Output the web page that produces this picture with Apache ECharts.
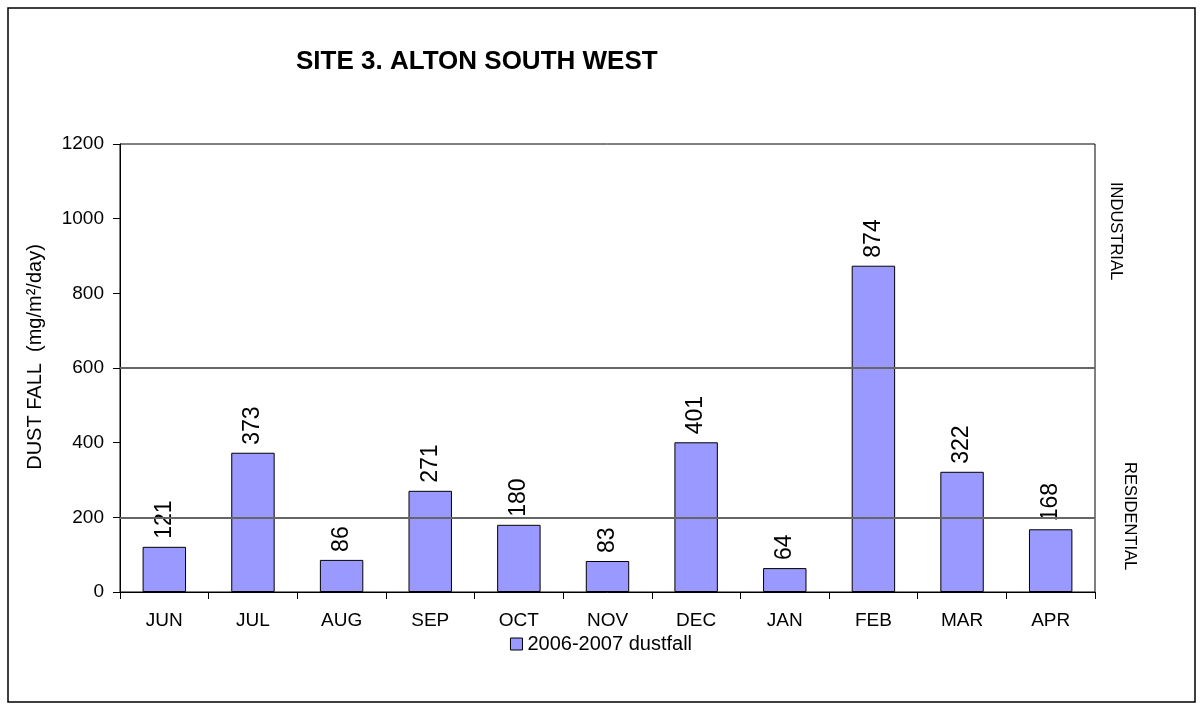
<!DOCTYPE html>
<html>
<head>
<meta charset="utf-8">
<script src="https://cdn.jsdelivr.net/npm/echarts@6/dist/echarts.min.js"></script>
<style>
html,body{margin:0;padding:0;background:#fff;}
#chart{width:1202px;height:704px;}
</style>
</head>
<body>
<div id="chart"></div>
<script>
// ---- data ----
const months = ['JUN','JUL','AUG','SEP','OCT','NOV','DEC','JAN','FEB','MAR','APR'];
const dustfall = [121, 373, 86, 271, 180, 83, 401, 64, 874, 322, 168];
const seriesName = '2006-2007 dustfall';
const limitValues = [200, 600];
const zoneLabels = ['INDUSTRIAL', 'RESIDENTIAL'];
const titleText = 'SITE 3. ALTON SOUTH WEST';
const yAxisTitle = 'DUST FALL  (mg/m²/day)';

const FONT = '"Liberation Sans", Arial, sans-serif';
const chart = echarts.init(document.getElementById('chart'));

chart.setOption({
  animation: false,
  backgroundColor: '#fff',
  title: {
    text: titleText,
    left: 291, top: 44,
    textStyle: {fontFamily: FONT, fontSize: 26, fontWeight: 'bold', color: '#000'}
  },
  legend: {
    data: [seriesName],
    left: 'center', top: 629,
    itemWidth: 12, itemHeight: 12, itemGap: 6,
    icon: 'rect',
    textStyle: {fontFamily: FONT, fontSize: 20, color: '#000'},
    itemStyle: {borderColor: '#000', borderWidth: 1}
  },
  grid: {
    left: 120, right: 107, top: 144, bottom: 112,
    show: true, borderColor: '#000', borderWidth: 1, backgroundColor: 'transparent'
  },
  xAxis: {
    type: 'category',
    data: months,
    boundaryGap: true,
    axisLine: {lineStyle: {color: '#000', width: 1}},
    axisTick: {show: true, alignWithLabel: false, length: 7, lineStyle: {color: '#000'}},
    axisLabel: {fontFamily: FONT, fontSize: 19, color: '#000', margin: 19},
    splitLine: {show: false}
  },
  yAxis: {
    type: 'value',
    min: 0, max: 1200, interval: 200,
    name: yAxisTitle,
    nameLocation: 'middle',
    nameGap: 75,
    nameRotate: 90,
    nameTextStyle: {fontFamily: FONT, fontSize: 20, color: '#000', padding: [0, 0, 0, 22]},
    axisLine: {show: true, lineStyle: {color: '#000', width: 1}},
    axisTick: {show: true, length: 7, lineStyle: {color: '#000'}},
    axisLabel: {fontFamily: FONT, fontSize: 19, color: '#000', margin: 16,
                formatter: v => String(v)},
    splitLine: {show: false}
  },
  series: [{
    name: seriesName,
    type: 'bar',
    data: dustfall,
    barCategoryGap: '51%',
    itemStyle: {color: '#9999FF', borderColor: '#000', borderWidth: 1},
    label: {
      show: true, position: 'top', distance: 8, rotate: 90,
      align: 'left', verticalAlign: 'middle',
      fontFamily: FONT, fontSize: 23, color: '#000'
    },
    markLine: {
      silent: true,
      symbol: ['none', 'none'],
      label: {show: false},
      lineStyle: {color: '#666666', width: 2, type: 'solid'},
      data: limitValues.map(v => ({yAxis: v}))
    }
  }],
  graphic: [
    {type: 'rect', shape: {x: 8, y: 8, width: 1187, height: 694},
     style: {fill: 'none', stroke: '#000', lineWidth: 1.5}, z: 100},
    {type: 'text', x: 1107, y: 182, rotation: -Math.PI / 2,
     style: {text: zoneLabels[0], font: '16.5px ' + FONT, fill: '#000', textAlign: 'left', textVerticalAlign: 'bottom'}},
    {type: 'text', x: 1121, y: 462, rotation: -Math.PI / 2,
     style: {text: zoneLabels[1], font: '16.5px ' + FONT, fill: '#000', textAlign: 'left', textVerticalAlign: 'bottom'}}
  ]
});
</script>
</body>
</html>
